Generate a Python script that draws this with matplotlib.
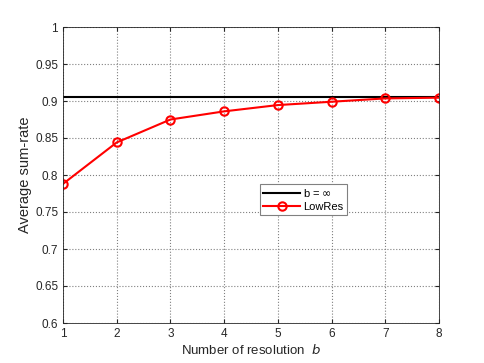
import numpy as np
import matplotlib
matplotlib.use("Agg")
import matplotlib.pyplot as plt

plt.rcParams['font.family'] = ['Liberation Sans', 'DejaVu Sans']

# data
b_vals = [1, 2, 3, 4, 5, 6, 7, 8]
lowres = [0.788, 0.844, 0.875, 0.886, 0.8945, 0.899, 0.9035, 0.9045]
b_inf = 0.906

fig = plt.figure(figsize=(4.85, 3.63), dpi=100)
ax = fig.add_axes([63 / 485, 40 / 363, 376 / 485, 296 / 363])

ax.plot([1, 8], [b_inf, b_inf], color='black', linewidth=1.5, label=r'b = $\infty$')
ax.plot(b_vals, lowres, color='red', linewidth=1.5, marker='o', markersize=6,
        markerfacecolor='none', markeredgewidth=1.5, label='LowRes')

ax.set_xlim(1, 8)
ax.set_ylim(0.6, 1.0)
ax.set_xticks(b_vals)
ax.set_yticks(np.arange(0.6, 1.001, 0.05))
ax.set_yticklabels(['0.6', '0.65', '0.7', '0.75', '0.8', '0.85', '0.9', '0.95', '1'])

ax.grid(True, linestyle=':', color='#808080', linewidth=0.8)
ax.tick_params(direction='in', top=True, right=True, labelsize=8.5,
               colors='#262626', length=3)
for s in ax.spines.values():
    s.set_color('#262626')
    s.set_linewidth(0.6)

ax.set_xlabel(r'Number of resolution  $b$', fontsize=9.5, color='#262626', labelpad=2)
ax.set_ylabel('Average sum-rate', fontsize=10.5, color='#262626', labelpad=2)

leg = ax.legend(loc='upper left', bbox_to_anchor=(197 / 376, 1 - 157 / 296),
                fontsize=8, frameon=True, fancybox=False, borderpad=0.3,
                handlelength=3.3, handletextpad=0.3, labelspacing=0.2,
                borderaxespad=0)
leg.get_frame().set_edgecolor('#808080')
leg.get_frame().set_linewidth(0.8)
leg.get_frame().set_alpha(1)

fig.savefig('out.png', dpi=100)
